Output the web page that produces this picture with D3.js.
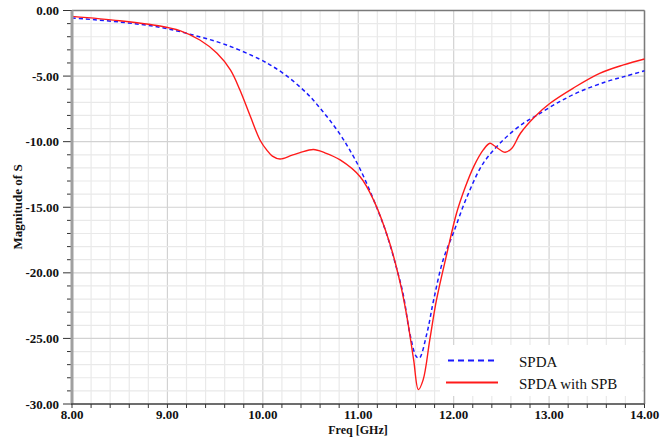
<!DOCTYPE html>
<html>
<head>
<meta charset="utf-8">
<script src="https://cdn.jsdelivr.net/npm/d3@7"></script>
<style>
  body { margin: 0; background: #fff; }
  svg { display: block; }
  .tick-label { font-family: "Liberation Serif", "Times New Roman", serif; font-weight: bold; font-size: 13px; fill: #111; }
  .axis-title { font-family: "Liberation Serif", "Times New Roman", serif; font-weight: bold; font-size: 12px; fill: #111; }
  .legend-text { font-family: "Liberation Serif", "Times New Roman", serif; font-size: 15px; fill: #111; }
</style>
</head>
<body>
<svg id="chart" width="672" height="438"></svg>
<script>
// values
const spdaFreq = [8.0, 8.5, 8.92, 9.27, 9.62, 9.97, 10.1, 10.25, 10.4, 10.5, 10.6, 10.7, 10.81, 10.9, 11.02, 11.19, 11.3, 11.4, 11.47, 11.54, 11.61, 11.64, 11.72, 11.79, 11.89, 12.0, 12.14, 12.31, 12.52, 12.73, 12.87, 13.08, 13.32, 13.6, 13.81, 14.0];
const spdaMag  = [-0.57, -0.88, -1.28, -1.87, -2.63, -3.72, -4.25, -4.98, -5.9, -6.6, -7.45, -8.35, -9.45, -10.5, -12.1, -14.95, -17.1, -19.6, -21.6, -24.6, -26.4, -26.5, -24.6, -22.07, -19.0, -16.9, -14.2, -11.65, -9.87, -8.6, -8.0, -7.07, -6.19, -5.43, -4.99, -4.6];

const spbFreq = [8.0, 8.5, 8.92, 9.13, 9.34, 9.52, 9.66, 9.76, 9.87, 9.97, 10.04, 10.1, 10.18, 10.3, 10.39, 10.53, 10.65, 10.81, 11.02, 11.16, 11.33, 11.44, 11.51, 11.58, 11.63, 11.68, 11.75, 11.82, 11.93, 12.03, 12.12, 12.21, 12.31, 12.38, 12.43, 12.54, 12.61, 12.7, 12.85, 13.01, 13.25, 13.53, 13.78, 14.0];
const spbMag  = [-0.45, -0.78, -1.18, -1.54, -2.25, -3.26, -4.53, -6.06, -8.09, -9.87, -10.63, -11.1, -11.32, -11.05, -10.84, -10.6, -10.85, -11.39, -12.67, -14.44, -17.74, -20.79, -23.34, -26.6, -28.9, -28.16, -25.1, -22.07, -18.5, -15.46, -13.5, -11.9, -10.63, -10.12, -10.33, -10.81, -10.5, -9.36, -8.1, -7.07, -5.93, -4.79, -4.15, -3.7];

const xTicks = [8, 9, 10, 11, 12, 13, 14];
const yTicks = [0, -5, -10, -15, -20, -25, -30];
const seriesNames = ["SPDA", "SPDA with SPB"];

const svg = d3.select("#chart");
const x = d3.scaleLinear().domain([8, 14]).range([72, 644.5]);
const y = d3.scaleLinear().domain([0, -30]).range([10.5, 404]);

const xMinor = d3.range(8, 14.001, 0.2).map(v => +v.toFixed(1));
const yMinor = d3.range(0, -30.001, -1);

// grid
const grid = svg.append("g");
grid.selectAll(".vx").data(xMinor).join("line")
    .attr("x1", d => x(d)).attr("x2", d => x(d))
    .attr("y1", y(0)).attr("y2", y(-30))
    .attr("stroke", d => xTicks.includes(d) ? "#d2d2d2" : "#e9e9e9")
    .attr("stroke-width", 1.2);
grid.selectAll(".hy").data(yMinor).join("line")
    .attr("y1", d => y(d)).attr("y2", d => y(d))
    .attr("x1", x(8)).attr("x2", x(14))
    .attr("stroke", d => d % 5 === 0 ? "#d2d2d2" : "#e9e9e9")
    .attr("stroke-width", 1.2);

// frame
svg.append("line").attr("x1", x(8)).attr("x2", x(14)).attr("y1", y(0)).attr("y2", y(0))
    .attr("stroke", "#7a7a7a").attr("stroke-width", 1.5);
svg.append("line").attr("x1", x(14)).attr("x2", x(14)).attr("y1", y(0)).attr("y2", y(-30))
    .attr("stroke", "#7a7a7a").attr("stroke-width", 1.5);

// curves
const line = d3.line().curve(d3.curveCatmullRom.alpha(0.5));
const spdaPts = spdaFreq.map((f, i) => [x(f), y(spdaMag[i])]);
const spbPts = spbFreq.map((f, i) => [x(f), y(spbMag[i])]);

svg.append("path").attr("d", line(spdaPts))
    .attr("fill", "none").attr("stroke", "#1a1aff").attr("stroke-width", 1.5)
    .attr("stroke-dasharray", "4,3");
svg.append("path").attr("d", line(spbPts))
    .attr("fill", "none").attr("stroke", "#ff1a1a").attr("stroke-width", 1.4);

// left axis
const left = svg.append("g");
left.selectAll(".mt").data(yMinor).join("line")
    .attr("x1", d => x(8) - (d % 5 === 0 ? 9 : 5)).attr("x2", x(8))
    .attr("y1", d => y(d)).attr("y2", d => y(d))
    .attr("stroke", "#333").attr("stroke-width", 1);
left.append("line").attr("x1", x(8)).attr("x2", x(8)).attr("y1", y(0)).attr("y2", y(-30))
    .attr("stroke", "#a0a0a0").attr("stroke-width", 3);
left.selectAll(".tl").data(yTicks).join("text")
    .attr("class", "tick-label")
    .attr("x", 59).attr("y", d => y(d)).attr("dy", "0.35em")
    .attr("text-anchor", "end")
    .text(d => d.toFixed(2));

// bottom axis
const bottom = svg.append("g");
bottom.append("line").attr("x1", x(8) - 1).attr("x2", x(14)).attr("y1", y(-30)).attr("y2", y(-30))
    .attr("stroke", "#444").attr("stroke-width", 1.5);
bottom.selectAll(".bt").data(xMinor).join("line")
    .attr("x1", d => x(d)).attr("x2", d => x(d))
    .attr("y1", y(-30)).attr("y2", y(-30) + 4)
    .attr("stroke", "#333").attr("stroke-width", 1);
bottom.selectAll(".bl").data(xTicks).join("text")
    .attr("class", "tick-label")
    .attr("x", d => x(d)).attr("y", 419)
    .attr("text-anchor", "middle")
    .text(d => d.toFixed(2));

// axis titles
svg.append("text").attr("class", "axis-title")
    .attr("x", 358).attr("y", 434).attr("text-anchor", "middle")
    .text("Freq [GHz]");
svg.append("text").attr("class", "axis-title")
    .attr("transform", "translate(22,207) rotate(-90)")
    .attr("text-anchor", "middle")
    .style("font-size", "13px")
    .text("Magnitude of S");

// legend
const legend = svg.append("g");
legend.append("rect").attr("x", 440).attr("y", 345).attr("width", 202).attr("height", 51).attr("fill", "#fff");
legend.append("line").attr("x1", 448).attr("x2", 496).attr("y1", 360.5).attr("y2", 360.5)
    .attr("stroke", "#1a1aff").attr("stroke-width", 1.8).attr("stroke-dasharray", "6,4");
legend.append("line").attr("x1", 446).attr("x2", 498).attr("y1", 382.5).attr("y2", 382.5)
    .attr("stroke", "#ff1a1a").attr("stroke-width", 1.8);
legend.selectAll(".lt").data(seriesNames).join("text")
    .attr("class", "legend-text")
    .attr("x", 519).attr("y", (d, i) => 366.5 + i * 22.5)
    .text(d => d);
</script>
</body>
</html>
